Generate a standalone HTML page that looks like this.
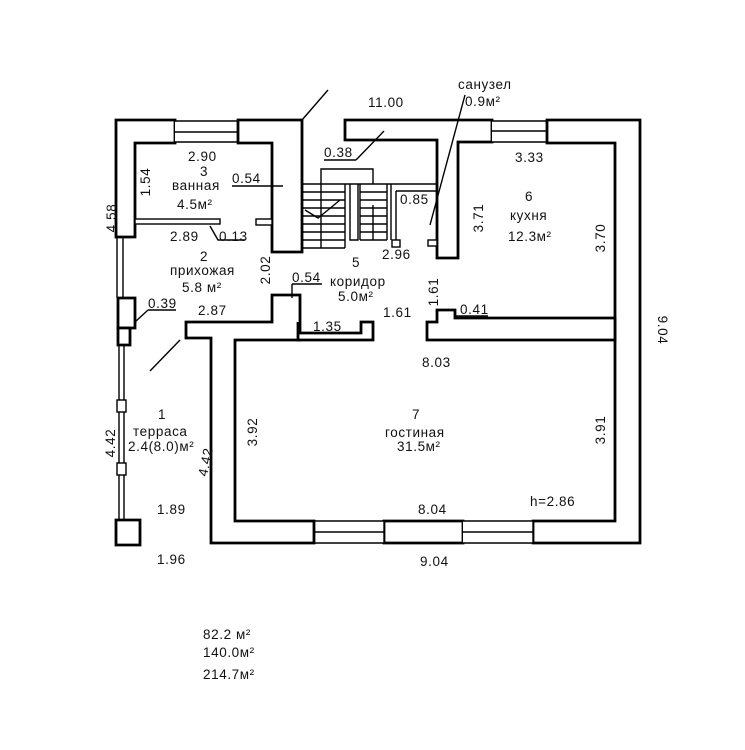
<!DOCTYPE html>
<html><head><meta charset="utf-8"><style>
html,body{margin:0;padding:0;background:#fff;}
svg{display:block;}
text{font-family:"Liberation Sans",sans-serif;font-size:13.5px;fill:#111;letter-spacing:0.6px;}
</style></head><body>
<svg width="745" height="750" viewBox="0 0 745 750" xmlns="http://www.w3.org/2000/svg">
<g fill="#fff" stroke="#000" stroke-width="2.8">
<path d="M116,120 H175 V143 H135 V237 H116 Z"/>
<path d="M175,121 H238 V142 H175 M175,132 H238" stroke-width="1.4"/>
<path d="M238,120 H302 V252 H272 V143 H238 Z"/>
<path d="M345,120 H492 V142 H458 V258 H437 V140 H345 Z"/>
<path d="M492,121 H547 V142 H492 M492,131 H547" stroke-width="1.4"/>
<path d="M547,120 H640 V543 H533 V521 H615 V143 H547 Z"/>
<path d="M384,521 H463 V543 H384 Z"/>
<path d="M314,521 H384 V543 H314 M314,532 H384" stroke-width="1.4"/>
<path d="M463,521 H533 V543 H463 M463,532 H533" stroke-width="1.4"/>
<path d="M186,322 H272 V295 H300 V340 H235 V521 H314 V543 H211 V338 H186 Z"/>
<path d="M298,322 V340 H373 V322 H361 V333 H298" />
<path d="M427,322 H437 V310 H455 V318 H615 V340 H427 Z"/>
<path d="M118,298 H135 V328 H118 Z"/>
<path d="M118,328 H130 V345 H118 Z"/>
<path d="M116,520 H140 V545 H116 Z"/>
</g>
<g stroke="#000" stroke-width="1.4" fill="none">
<path d="M117,237 V298 M123,237 V298 M119,345 V520 M124,345 V520"/>
<rect x="117" y="400" width="9" height="12" fill="#fff"/>
<rect x="117" y="463" width="9" height="12" fill="#fff"/>
<rect x="135" y="219" width="85" height="5" fill="#fff"/>
<rect x="256" y="219" width="16" height="6" fill="#fff"/>
<path d="M321,184 V169 H373 V184"/>
<path d="M302,184 H437"/>
<path d="M302,184 V252 M345,184 V248 M321,184 V248 M302,248 H345"/>
<path d="M302,192 H345 M302,200 H345 M302,208 H345 M302,216 H345 M302,224 H345 M302,232 H345 M302,240 H345"/>
<path d="M350,184 V240 H358 V184"/>
<path d="M360,184 V240 M387,184 V240 M360,240 H387"/>
<path d="M360,192 H387 M360,200 H387 M360,208 H387 M360,216 H387 M360,224 H387 M360,232 H387"/>
<path d="M373,205 V240"/>
<path d="M391,184 V240 M396,191 V240 M396,191 H437"/>
<path d="M305,210 L318,218 L328,210 L340,200"/>
<rect x="392" y="240" width="8" height="7" fill="#fff"/>
<rect x="428" y="240" width="9" height="6" fill="#fff"/>
<path d="M302,120 L328,90"/>
<path d="M384,131 L356,160 M324,160 H356"/>
<path d="M465,95 L430,225"/>
<path d="M232,186 H283"/>
<path d="M210,226 L218,240 H245"/>
<path d="M292,284 H322 M292,284 V298"/>
<path d="M148,310 H176 M148,310 L135,322"/>
<path d="M455,316 H488"/>
<path d="M180,340 L150,371"/>
</g>
<g>
<text x="368" y="107">11.00</text>
<text x="458" y="89">санузел</text>
<text x="465" y="106">0.9м²</text>
<text x="188" y="161">2.90</text>
<text x="200" y="176">3</text>
<text x="172" y="190">ванная</text>
<text x="177" y="209">4.5м²</text>
<text x="232" y="183">0.54</text>
<text x="324" y="157">0.38</text>
<text x="515" y="162">3.33</text>
<text x="525" y="201">6</text>
<text x="510" y="220">кухня</text>
<text x="508" y="241">12.3м²</text>
<text x="400" y="204">0.85</text>
<text x="170" y="241">2.89</text>
<text x="219" y="241">0.13</text>
<text x="200" y="261">2</text>
<text x="170" y="275">прихожая</text>
<text x="182" y="292">5.8 м²</text>
<text x="382" y="259">2.96</text>
<text x="352" y="267">5</text>
<text x="330" y="286">коридор</text>
<text x="338" y="301">5.0м²</text>
<text x="292" y="282">0.54</text>
<text x="148" y="308">0.39</text>
<text x="198" y="315">2.87</text>
<text x="383" y="317">1.61</text>
<text x="460" y="314">0.41</text>
<text x="313" y="331">1.35</text>
<text x="422" y="367">8.03</text>
<text x="158" y="419">1</text>
<text x="133" y="436">терраса</text>
<text x="128" y="451">2.4(8.0)м²</text>
<text x="412" y="419">7</text>
<text x="385" y="437">гостиная</text>
<text x="397" y="451">31.5м²</text>
<text x="157" y="514">1.89</text>
<text x="418" y="514">8.04</text>
<text x="530" y="506">h=2.86</text>
<text x="157" y="564">1.96</text>
<text x="420" y="566">9.04</text>
<text x="203" y="639" font-size="12">82.2  м²</text>
<text x="203" y="657" font-size="12">140.0м²</text>
<text x="203" y="679" font-size="12">214.7м²</text>
<text transform="translate(150,182) rotate(-90)" text-anchor="middle">1.54</text>
<text transform="translate(116,218) rotate(-90)" text-anchor="middle">4.58</text>
<text transform="translate(483,218) rotate(-90)" text-anchor="middle">3.71</text>
<text transform="translate(605,238) rotate(-90)" text-anchor="middle">3.70</text>
<text transform="translate(270,270) rotate(-90)" text-anchor="middle">2.02</text>
<text transform="translate(438,292) rotate(-90)" text-anchor="middle">1.61</text>
<text transform="translate(257,432) rotate(-90)" text-anchor="middle">3.92</text>
<text transform="translate(605,430) rotate(-90)" text-anchor="middle">3.91</text>
<text transform="translate(210,463) rotate(-78)" text-anchor="middle">4.42</text>
<text transform="translate(115,443) rotate(-90)" text-anchor="middle">4.42</text>
<text transform="translate(658,330) rotate(90)" text-anchor="middle">9.04</text>
</g>
</svg>
</body></html>
